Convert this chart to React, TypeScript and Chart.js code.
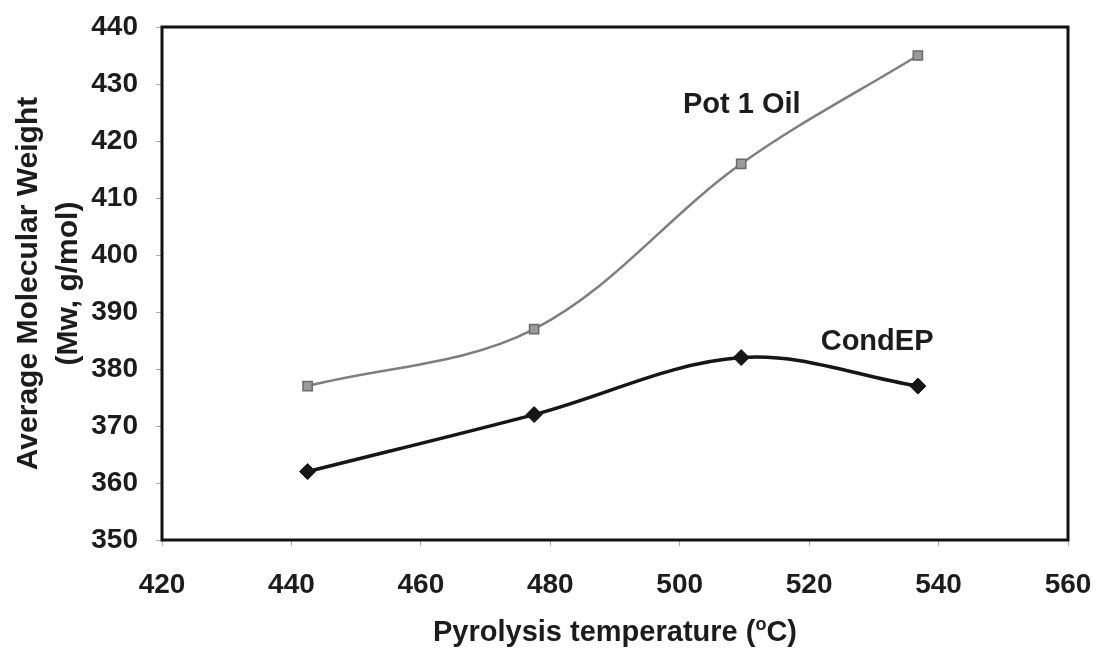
import React, { useEffect, useRef } from "react";
import { Chart, registerables } from "chart.js";

Chart.register(...registerables);

// Pyrolysis temperatures (°C) for each sample
const temperatures = [442.5, 477.5, 509.5, 536.8];
// Average molecular weight, Mw (g/mol)
const pot1Oil = [377, 387, 416, 435];
const condEP = [362, 372, 382, 377];

const xTicks = [420, 440, 460, 480, 500, 520, 540, 560];
const yTicks = [350, 360, 370, 380, 390, 400, 410, 420, 430, 440];

const seriesLabels = ["Pot 1 Oil", "CondEP"];

const FONT = "'Liberation Sans', Arial, sans-serif";
const INK = "#1c1c1c";

// Frame around the plot area, the in-plot series labels and the x-axis title
const framePlugin = {
  id: "frame",
  afterDraw(chart: any) {
    const { ctx, chartArea, scales } = chart;
    ctx.save();
    ctx.strokeStyle = "#111";
    ctx.lineWidth = 3;
    ctx.strokeRect(chartArea.left, chartArea.top, chartArea.right - chartArea.left, chartArea.bottom - chartArea.top);

    ctx.fillStyle = INK;
    ctx.font = `bold 29px ${FONT}`;
    ctx.textAlign = "center";
    ctx.textBaseline = "middle";
    ctx.fillText(seriesLabels[0], scales.x.getPixelForValue(509.6), scales.y.getPixelForValue(426.3));
    ctx.fillText(seriesLabels[1], scales.x.getPixelForValue(530.5), scales.y.getPixelForValue(384.7));

    // x-axis title with a superscript "o" for degrees
    const main = "Pyrolysis temperature (";
    const sup = "o";
    const tail = "C)";
    ctx.font = `bold 29px ${FONT}`;
    const wMain = ctx.measureText(main).width;
    const wTail = ctx.measureText(tail).width;
    ctx.font = `bold 18px ${FONT}`;
    const wSup = ctx.measureText(sup).width;
    const total = wMain + wSup + wTail;
    const cx = (chartArea.left + chartArea.right) / 2;
    const baseline = 641;
    let x = cx - total / 2;
    ctx.textAlign = "left";
    ctx.textBaseline = "alphabetic";
    ctx.font = `bold 29px ${FONT}`;
    ctx.fillText(main, x, baseline);
    x += wMain;
    ctx.font = `bold 18px ${FONT}`;
    ctx.fillText(sup, x, baseline - 11);
    x += wSup;
    ctx.font = `bold 29px ${FONT}`;
    ctx.fillText(tail, x, baseline);
    ctx.restore();
  },
};

export default function App() {
  const canvasRef = useRef<HTMLCanvasElement | null>(null);

  useEffect(() => {
    if (!canvasRef.current) return;
    const chart = new Chart(canvasRef.current, {
      type: "line",
      data: {
        datasets: [
          {
            label: seriesLabels[0],
            data: temperatures.map((t, i) => ({ x: t, y: pot1Oil[i] })),
            borderColor: "#7e7e7e",
            borderWidth: 2.5,
            backgroundColor: "#9a9a9a",
            pointStyle: "rect",
            pointRadius: 6.5,
            pointBorderColor: "#6a6a6a",
            pointBorderWidth: 1.5,
            tension: 0.35,
          },
          {
            label: seriesLabels[1],
            data: temperatures.map((t, i) => ({ x: t, y: condEP[i] })),
            borderColor: "#161616",
            borderWidth: 3.5,
            backgroundColor: "#161616",
            pointStyle: "rectRot",
            pointRadius: 8,
            pointBorderColor: "#161616",
            pointBorderWidth: 1,
            tension: 0.35,
          },
        ],
      },
      options: {
        animation: false,
        responsive: false,
        layout: { padding: { top: 27, right: 28, left: 0, bottom: 0 } },
        plugins: {
          legend: { display: false },
          tooltip: { enabled: false },
        },
        scales: {
          x: {
            type: "linear",
            min: 420,
            max: 560,
            afterBuildTicks: (scale: any) => {
              scale.ticks = xTicks.map((v) => ({ value: v }));
            },
            afterFit: (scale: any) => {
              scale.height = 117;
              scale.paddingLeft = 0;
              scale.paddingRight = 0;
            },
            grid: { drawOnChartArea: false, drawTicks: true, tickLength: 6, color: "#aaa" },
            border: { display: false },
            ticks: {
              color: INK,
              padding: 22,
              font: { family: FONT, size: 28, weight: "bold" },
            },
            title: { display: false },
          },
          y: {
            type: "linear",
            min: 350,
            max: 440,
            afterBuildTicks: (scale: any) => {
              scale.ticks = yTicks.map((v) => ({ value: v }));
            },
            afterFit: (scale: any) => {
              scale.width = 162;
              scale.paddingTop = 0;
              scale.paddingBottom = 0;
            },
            grid: { drawOnChartArea: false, drawTicks: true, tickLength: 6, color: "#aaa" },
            border: { display: false },
            ticks: {
              color: INK,
              padding: 18,
              font: { family: FONT, size: 28, weight: "bold" },
            },
            title: {
              display: true,
              text: ["Average Molecular Weight", "(Mw, g/mol)"],
              color: INK,
              padding: { top: 8, bottom: 0 },
              font: { family: FONT, size: 30, weight: "bold", lineHeight: 1.35 },
            },
          },
        },
      },
      plugins: [framePlugin],
    });
    return () => chart.destroy();
  }, []);

  return (
    <div style={{ position: "absolute", left: 0, top: 0, width: 1096, height: 657, background: "#fff" }}>
      <canvas ref={canvasRef} width={1096} height={657} style={{ display: "block" }} />
    </div>
  );
}
